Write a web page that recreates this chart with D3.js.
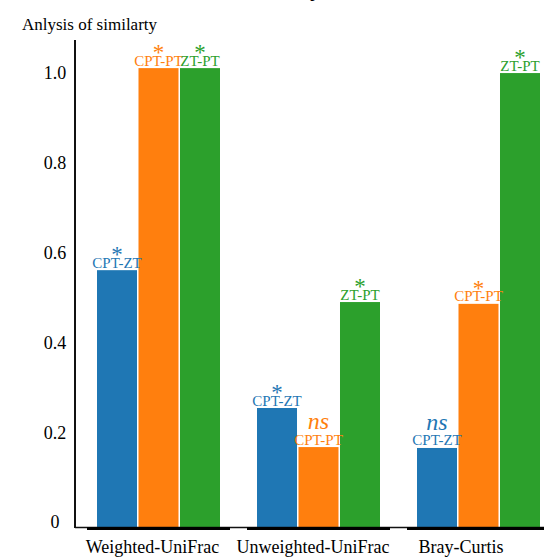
<!DOCTYPE html>
<html>
<head>
<meta charset="utf-8">
<script src="https://cdn.jsdelivr.net/npm/d3@7"></script>
<style>
  html, body { margin: 0; padding: 0; background: #fff; }
  svg { display: block; }
  svg text { font-family: "Liberation Serif", "DejaVu Serif", serif; }
</style>
</head>
<body>
<svg id="chart" width="544" height="557"></svg>
<script>
// Similarity metrics (groups) and pairwise comparisons (series)
const metrics = ["Weighted-UniFrac", "Unweighted-UniFrac", "Bray-Curtis"];
const comparisons = ["CPT-ZT", "CPT-PT", "ZT-PT"];
const colors = ["#1f77b4", "#ff7f0e", "#2ca02c"];

// one array per comparison, values in metric order
const cptZt = [0.572, 0.265, 0.176];
const cptPt = [1.022, 0.178, 0.497];
const ztPt  = [1.022, 0.501, 1.011];

// significance marks per comparison, in metric order
const sigCptZt = ["*", "*", "ns"];
const sigCptPt = ["*", "ns", "*"];
const sigZtPt  = ["*", "*", "*"];

const yTicks = [0, 0.2, 0.4, 0.6, 0.8, 1.0];
const yTickLabels = ["0", "0.2", "0.4", "0.6", "0.8", "1.0"];

const seriesValues = [cptZt, cptPt, ztPt];
const seriesSig = [sigCptZt, sigCptPt, sigZtPt];

const rows = [];
metrics.forEach((m, i) => {
  comparisons.forEach((c, j) => {
    rows.push({ metric: m, comp: c, value: seriesValues[j][i], sig: seriesSig[j][i], color: colors[j] });
  });
});

const FONT = "'Liberation Serif', 'DejaVu Serif', serif";
const svg = d3.select("#chart").attr("font-family", FONT);
const axisX = 75, baseY = 527;

const x0 = d3.scaleBand().domain(metrics).range([97, 540]).paddingInner(0.23125).paddingOuter(0);
const x1 = d3.scaleBand().domain(comparisons).range([0, x0.bandwidth()]).paddingInner(0.036);
const y = d3.scaleLinear().domain([0, 1]).range([baseY, 78]);

// title, mostly above the visible area
svg.append("text")
  .attr("x", 322).attr("y", -4)
  .attr("text-anchor", "end")
  .attr("font-family", FONT)
  .style("font-size", "24px").style("font-weight", "bold")
  .text("Similarity");

svg.append("text")
  .attr("x", 22).attr("y", 30)
  .attr("font-family", FONT)
  .style("font-size", "17px")
  .text("Anlysis of similarty");

// bars
svg.append("g").selectAll("rect").data(rows).join("rect")
  .attr("x", d => x0(d.metric) + x1(d.comp))
  .attr("y", d => y(d.value))
  .attr("width", x1.bandwidth())
  .attr("height", d => baseY - y(d.value))
  .attr("fill", d => d.color);

// comparison labels and significance marks
const lab = svg.append("g").selectAll("g").data(rows).join("g")
  .attr("transform", d => `translate(${x0(d.metric) + x1(d.comp) + x1.bandwidth() / 2},${y(d.value)})`)
  .attr("fill", d => d.color)
  .attr("font-family", FONT)
  .attr("text-anchor", "middle");

lab.append("text")
  .attr("y", -2.5)
  .style("font-size", "15px")
  .text(d => d.comp);

lab.append("text")
  .attr("y", d => d.sig === "ns" ? -18 : -8)
  .style("font-size", d => d.sig === "ns" ? "24px" : "23px")
  .style("font-style", d => d.sig === "ns" ? "italic" : "normal")
  .text(d => d.sig);

// axes
svg.append("line")
  .attr("x1", axisX).attr("x2", axisX).attr("y1", 40).attr("y2", baseY + 1)
  .attr("stroke", "#111").attr("stroke-width", 2);
svg.append("line")
  .attr("x1", axisX).attr("x2", 544).attr("y1", baseY + 0.5).attr("y2", baseY + 0.5)
  .attr("stroke", "#111").attr("stroke-width", 1.5);

// heavy baseline under each group
svg.append("g").selectAll("line").data(metrics).join("line")
  .attr("x1", d => x0(d) + x0.bandwidth() / 2 - 71.5)
  .attr("x2", d => x0(d) + x0.bandwidth() / 2 + 71.5)
  .attr("y1", baseY + 1.5).attr("y2", baseY + 1.5)
  .attr("stroke", "#000").attr("stroke-width", 3);

// y tick labels
svg.append("g").attr("font-family", FONT).selectAll("text").data(yTicks).join("text")
  .attr("x", 55)
  .attr("y", d => y(d) - 5)
  .attr("dy", "0.35em")
  .attr("text-anchor", "middle")
  .style("font-size", "18px")
  .text((d, i) => yTickLabels[i]);

// category labels
const catShift = [-6, -5.5, -17.5];
svg.append("g").attr("font-family", FONT).selectAll("text").data(metrics).join("text")
  .attr("x", (d, i) => x0(d) + x0.bandwidth() / 2 + catShift[i])
  .attr("y", 553)
  .attr("text-anchor", "middle")
  .style("font-size", "18px")
  .text(d => d);
</script>
</body>
</html>
